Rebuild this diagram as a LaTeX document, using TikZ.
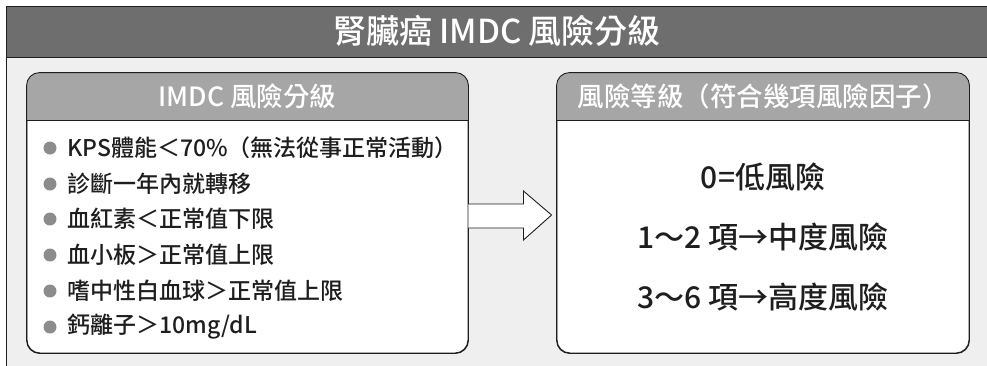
\documentclass[tikz,border=0pt]{standalone}
\usepackage{fontspec}
\setmainfont{Noto Sans CJK TC}
\newfontfamily\medfont{Noto Sans CJK TC Medium}
\usetikzlibrary{calc}
\definecolor{bg}{HTML}{EFEFEF}
\definecolor{titlebar}{HTML}{6E6E6E}
\definecolor{hdr}{HTML}{A6A6A6}
\definecolor{bul}{HTML}{8C8C8C}
\definecolor{ink}{HTML}{1E1E1E}
\tikzset{
  panel/.style={draw=ink, line width=0.9pt, rounded corners=13pt, fill=white, inner sep=0pt},
  titletext/.style={text=white, font=\fontsize{33}{36}\medfont, inner sep=0pt},
  hdrtext/.style={text=white, font=\fontsize{26.5}{30}\medfont, inner sep=0pt},
  itemtext/.style={text=ink, font=\fontsize{23}{26}\medfont, inner sep=0pt, anchor=west},
  risktext/.style={text=ink, font=\fontsize{30}{32}\medfont, inner sep=0pt},
  dot/.style={circle, fill=bul, minimum size=13pt, inner sep=0pt},
  bigarrow/.style={draw=ink, line width=0.9pt, fill=white, line join=miter}
}
\begin{document}
\begin{tikzpicture}[x=1pt,y=-1pt]
\useasboundingbox (0,0) rectangle (987,365);
\fill[white] (0,0) rectangle (987,365);
% outer frame
\draw[fill=bg, draw=ink, line width=1pt] (6,6) rectangle (995,375);
\fill[titlebar] (6,6) rectangle (995,57);
\draw[ink, line width=1pt] (6,6) -- (995,6) (6,57) -- (995,57) (6,6) -- (6,375);
\node[titletext] (title) at (497,31) {腎臟癌 IMDC 風險分級};

% left panel
\node[panel, minimum width=441pt, minimum height=280pt] (L) at (247.5,213) {};
\begin{scope}
  \clip[rounded corners=13pt] (L.north west) rectangle (L.south east);
  \fill[hdr] (L.north west) rectangle ($(L.north east)+(0,48)$);
\end{scope}
\draw[ink, line width=0.9pt] ($(L.north west)+(0,48)$) -- ($(L.north east)+(0,48)$);
\draw[ink, line width=0.9pt, rounded corners=13pt] (L.north west) rectangle (L.south east);
\node[hdrtext] (Lh) at ($(L.north)+(0,24)$) {IMDC 風險分級};

% right panel
\node[panel, minimum width=412pt, minimum height=280pt] (R) at (763,213) {};
\begin{scope}
  \clip[rounded corners=13pt] (R.north west) rectangle (R.south east);
  \fill[hdr] (R.north west) rectangle ($(R.north east)+(0,48)$);
\end{scope}
\draw[ink, line width=0.9pt] ($(R.north west)+(0,48)$) -- ($(R.north east)+(0,48)$);
\draw[ink, line width=0.9pt, rounded corners=13pt] (R.north west) rectangle (R.south east);
\node[hdrtext] (Rh) at ($(R.north)+(0,24)$) {風險等級（符合幾項風險因子）};

% bullets
\node[dot] (b1) at (50,148) {};
\node[dot] (b2) at (50,184) {};
\node[dot] (b3) at (50,219) {};
\node[dot] (b4) at (50,255) {};
\node[dot] (b5) at (50,291) {};
\node[dot] (b6) at (50,327) {};
\node[itemtext] (i1) at (67,148) {KPS體能＜70\%（無法從事正常活動）};
\node[itemtext] (i2) at (67,184) {診斷一年內就轉移};
\node[itemtext] (i3) at (67,219) {血紅素＜正常值下限};
\node[itemtext] (i4) at (67,255) {血小板＞正常值上限};
\node[itemtext] (i5) at (67,291) {嗜中性白血球＞正常值上限};
\node[itemtext] (i6) at (67,327) {鈣離子＞10mg/dL};

% risk levels
\node[risktext] (r1) at (763,177) {0=低風險};
\node[risktext] (r2) at (763,237) {1～2 項→中度風險};
\node[risktext] (r3) at (763,297) {3～6 項→高度風險};

% block arrow from left panel to right panel
\draw[bigarrow] ($(L.east)+(0,-9)$) -- ($(L.east)+(55,-9)$) -- ($(L.east)+(55,-22)$)
  -- ($(R.west)+(-5,2)$) -- ($(L.east)+(55,27)$) -- ($(L.east)+(55,15)$) -- ($(L.east)+(0,15)$);
\end{tikzpicture}
\end{document}
